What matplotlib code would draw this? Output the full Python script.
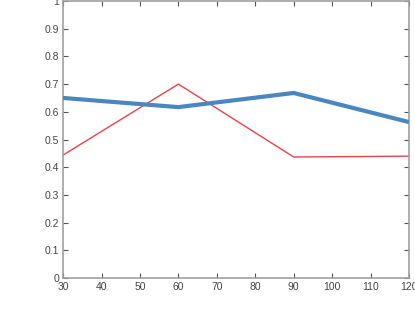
import matplotlib
matplotlib.use('Agg')
import matplotlib.pyplot as plt

x = [30, 60, 90, 120]
blue_vals = [0.650, 0.617, 0.668, 0.563]
red_vals = [0.444, 0.700, 0.437, 0.440]
xticks = [30, 40, 50, 60, 70, 80, 90, 100, 110, 120]
yticks = [0, 0.1, 0.2, 0.3, 0.4, 0.5, 0.6, 0.7, 0.8, 0.9, 1]
ytick_labels = ['0', '0.1', '0.2', '0.3', '0.4', '0.5', '0.6', '0.7', '0.8', '0.9', '1']

plt.rcParams['font.family'] = ['Liberation Sans', 'DejaVu Sans']

fig = plt.figure(figsize=(4.15, 3.26), dpi=100)
ax = fig.add_axes([0.152, 0.147, 0.8335, 0.850])

ax.plot(x, blue_vals, color='#4a86bf', lw=3, solid_capstyle='butt', zorder=3)
ax.plot(x, red_vals, color='#e8434a', lw=1, zorder=2)

ax.set_xlim(30, 120)
ax.set_ylim(0, 1)
ax.set_xticks(xticks)
ax.set_yticks(yticks)
ax.set_yticklabels(ytick_labels)

for s in ax.spines.values():
    s.set_color('#a0a0a0')
    s.set_linewidth(1.2)
ax.tick_params(direction='in', length=3.5, width=0.8, color='#555555',
               labelsize=7.5, labelcolor='#444444', top=True, right=True, pad=3)

fig.savefig('out.png', dpi=100)
